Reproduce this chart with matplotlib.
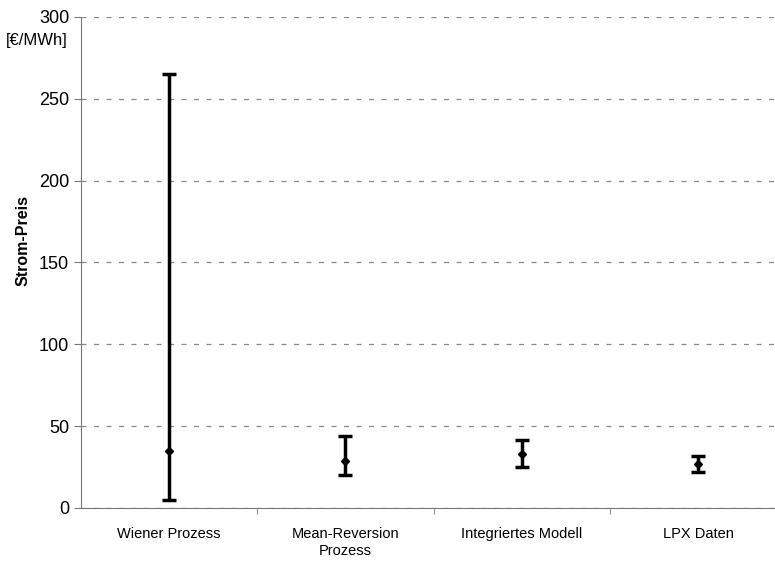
import matplotlib.pyplot as plt
import numpy as np

plt.rcParams['font.family'] = ['Liberation Sans', 'DejaVu Sans']

categories = ['Wiener Prozess', 'Mean-Reversion\nProzess', 'Integriertes Modell', 'LPX Daten']
mean_price = [35, 29, 33, 27]
upper_price = [265, 44, 41.5, 31.5]
lower_price = [5, 20, 25, 22]

x = np.arange(1, len(categories) + 1)
mean = np.array(mean_price)
yerr = [mean - np.array(lower_price), np.array(upper_price) - mean]

fig = plt.figure(figsize=(7.75, 5.66), dpi=100)
ax = fig.add_axes([0.1045, 0.1025, 0.91, 0.8675])

ax.errorbar(x, mean, yerr=yerr, fmt='D', color='black', markersize=4,
            elinewidth=2.5, capsize=5, capthick=2.5, zorder=3)

ax.set_ylim(0, 300)
ax.set_xlim(0.5, 4.5)
ax.set_yticks(np.arange(0, 301, 50))
ax.yaxis.grid(True, linestyle=(0, (4, 6)), color='#888888', linewidth=0.9)
ax.set_axisbelow(True)

ax.set_xticks(x)
ax.set_xticklabels(categories, fontsize=10.5)
ax.set_xticks([1.5, 2.5, 3.5], minor=True)
ax.tick_params(axis='x', which='major', length=0, pad=14)
ax.tick_params(axis='x', which='minor', length=4, color='#777777')
ax.tick_params(axis='y', labelsize=13, length=5, color='#777777')

for side in ['top', 'right']:
    ax.spines[side].set_visible(False)
for side in ['left', 'bottom']:
    ax.spines[side].set_color('#777777')

ax.set_ylabel('Strom-Preis', fontsize=11.5, fontweight='bold')
ax.yaxis.set_label_coords(-0.072, 0.545)
fig.text(0.008, 0.928, '[€/MWh]', fontsize=12, ha='left', va='center')

fig.savefig('out.png', dpi=100)
